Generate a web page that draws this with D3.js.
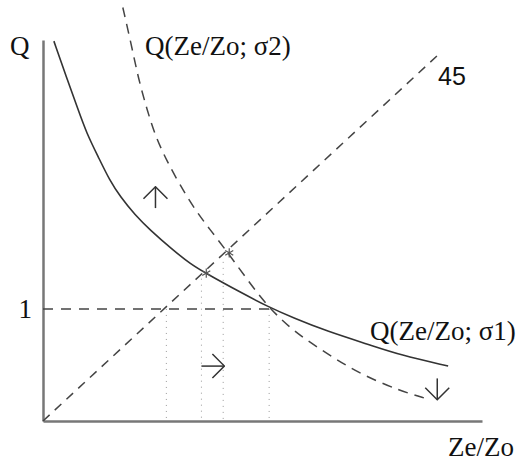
<!DOCTYPE html>
<html>
<head>
<meta charset="utf-8">
<script src="https://cdn.jsdelivr.net/npm/d3@7"></script>
<style>
  body { margin: 0; background: #fff; }
  svg { display: block; }
</style>
</head>
<body>
<div id="chart"></div>
<script>
// curve: Q(Ze/Zo; σ1), solid
const sigma1X = [0.09, 0.19, 0.29, 0.36, 0.46, 0.55, 0.64, 0.76, 0.88, 1.07, 1.22, 1.36, 1.63, 1.86, 2.07, 2.35, 2.70, 2.95, 3.35];
const sigma1Y = [3.39, 3.08, 2.78, 2.57, 2.35, 2.15, 2.00, 1.84, 1.71, 1.53, 1.40, 1.31, 1.15, 1.02, 0.92, 0.80, 0.68, 0.59, 0.49];

// Q(Ze/Zo; σ2), dashed
const sigma2X = [0.66, 0.73, 0.79, 0.86, 0.93, 1.02, 1.13, 1.26, 1.38, 1.53, 1.69, 1.86, 2.07, 2.35, 2.62, 2.95, 3.17];
const sigma2Y = [3.69, 3.36, 3.05, 2.78, 2.54, 2.33, 2.11, 1.88, 1.71, 1.50, 1.26, 1.02, 0.80, 0.60, 0.42, 0.27, 0.20];

// 45 degree line and the Q = 1 level
const diagonalEnd = 3.26;
const levelOne = 1;
const levelOneEnd = 1.9;

// intersections (asterisks) and dotted drop lines
const starX = [1.35, 1.54];
const starY = [1.32, 1.50];
const dropX = [1.02, 1.31, 1.49, 1.87];
const dropTop = [1.0, 1.27, 1.42, 1.0];

// arrows: [x1, y1, x2, y2]
const arrows = [
  [0.93, 1.90, 0.93, 2.09],
  [1.31, 0.49, 1.50, 0.49],
  [3.26, 0.38, 3.26, 0.19]
];

const width = 520, height = 462;
const serif = '"Liberation Serif", "Times New Roman", serif';
const sans = '"Liberation Sans", Arial, sans-serif';

const x = d3.scaleLinear().domain([0, 3.63]).range([43, 482]);
const y = d3.scaleLinear().domain([0, 3.4]).range([421, 40]);

const svg = d3.select("#chart").append("svg")
  .attr("width", width)
  .attr("height", height);

svg.append("defs").append("marker")
  .attr("id", "head")
  .attr("markerUnits", "userSpaceOnUse")
  .attr("viewBox", "-1 -1 14 26")
  .attr("markerWidth", 14)
  .attr("markerHeight", 26)
  .attr("refX", 12)
  .attr("refY", 12)
  .attr("orient", "auto")
  .append("path")
  .attr("d", "M0,0L12,12L0,24")
  .attr("fill", "none")
  .attr("stroke", "#333")
  .attr("stroke-width", 1.5);

// dotted drop lines
svg.append("g")
  .selectAll("line")
  .data(dropX)
  .join("line")
  .attr("x1", d => x(d))
  .attr("x2", d => x(d))
  .attr("y1", (d, i) => y(dropTop[i]))
  .attr("y2", y(0))
  .attr("stroke", "#999")
  .attr("stroke-width", 1)
  .attr("stroke-dasharray", "1 5");

// axes, no ticks, only the "1" label
const yAxis = svg.append("g")
  .attr("transform", `translate(${x(0)},0)`)
  .call(d3.axisLeft(y).tickValues([levelOne]).tickFormat(d3.format("d"))
    .tickSize(0).tickSizeOuter(0).tickPadding(11));
const xAxis = svg.append("g")
  .attr("transform", `translate(0,${y(0)})`)
  .call(d3.axisBottom(x).tickValues([]).tickSizeOuter(0));
svg.selectAll(".domain").attr("stroke", "#777").attr("stroke-width", 2.5);
yAxis.selectAll("text")
  .attr("font-family", serif)
  .attr("font-size", 27)
  .attr("fill", "#111");

// level 1 line
svg.append("line")
  .attr("x1", x(0)).attr("x2", x(levelOneEnd))
  .attr("y1", y(levelOne)).attr("y2", y(levelOne))
  .attr("stroke", "#444")
  .attr("stroke-width", 1.5)
  .attr("stroke-dasharray", "10 8");

// 45 line
svg.append("line")
  .attr("x1", x(0)).attr("y1", y(0))
  .attr("x2", x(diagonalEnd)).attr("y2", y(diagonalEnd))
  .attr("stroke", "#444")
  .attr("stroke-width", 1.5)
  .attr("stroke-dasharray", "9 7");

const line = d3.line()
  .x(d => x(d[0]))
  .y(d => y(d[1]))
  .curve(d3.curveBasis);

svg.append("path")
  .datum(d3.zip(sigma1X, sigma1Y))
  .attr("d", line)
  .attr("fill", "none")
  .attr("stroke", "#333")
  .attr("stroke-width", 1.6);

svg.append("path")
  .datum(d3.zip(sigma2X, sigma2Y))
  .attr("d", line)
  .attr("fill", "none")
  .attr("stroke", "#444")
  .attr("stroke-width", 1.5)
  .attr("stroke-dasharray", "10 7");

// asterisks
svg.append("g")
  .selectAll("path")
  .data(d3.zip(starX, starY))
  .join("path")
  .attr("transform", d => `translate(${x(d[0])},${y(d[1])})`)
  .attr("d", d3.symbol().type(d3.symbolAsterisk).size(60))
  .attr("fill", "none")
  .attr("stroke", "#555")
  .attr("stroke-width", 1.2);

// arrows
svg.append("g")
  .selectAll("line")
  .data(arrows)
  .join("line")
  .attr("x1", d => x(d[0]))
  .attr("y1", d => y(d[1]))
  .attr("x2", d => x(d[2]))
  .attr("y2", d => y(d[3]))
  .attr("stroke", "#333")
  .attr("stroke-width", 1.5)
  .attr("marker-end", "url(#head)");

// labels
const labels = svg.append("g").attr("fill", "#111");
labels.append("text")
  .attr("x", 10).attr("y", 55)
  .attr("font-family", serif).attr("font-size", 27)
  .text("Q");
labels.append("text")
  .attr("x", 145).attr("y", 55)
  .attr("font-family", serif).attr("font-size", 27)
  .text("Q(Ze/Zo; σ2)");
labels.append("text")
  .attr("x", 370).attr("y", 340)
  .attr("font-family", serif).attr("font-size", 27)
  .text("Q(Ze/Zo; σ1)");
labels.append("text")
  .attr("x", 448).attr("y", 456)
  .attr("font-family", serif).attr("font-size", 27)
  .text("Ze/Zo");
labels.append("text")
  .attr("x", 438).attr("y", 85)
  .attr("font-family", sans).attr("font-size", 25)
  .text("45");
</script>
</body>
</html>
